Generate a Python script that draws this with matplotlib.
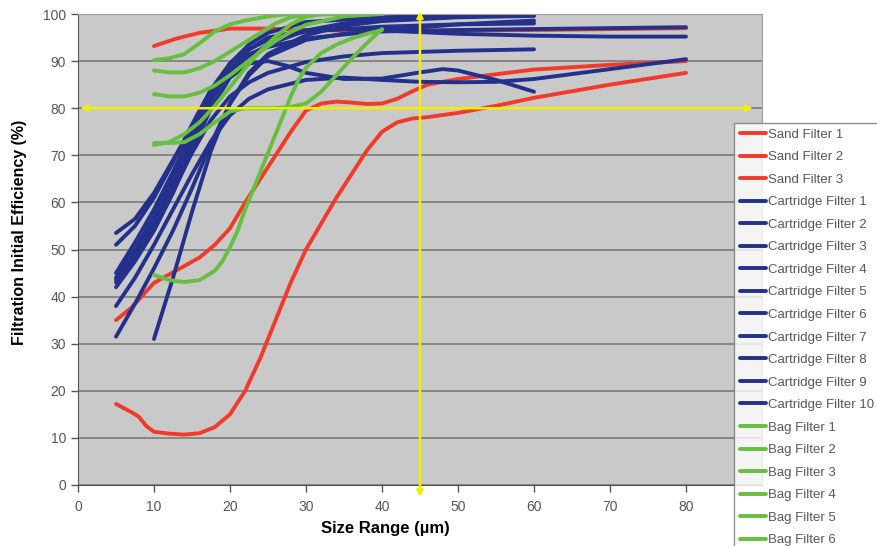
import matplotlib
matplotlib.use("Agg")
import matplotlib.pyplot as plt

plt.rcParams["font.family"] = ["Liberation Sans", "DejaVu Sans"]

RED = "#f03a2a"
BLUE = "#23308c"
GREEN = "#66bf3f"

# ---- data (x = size µm, y = efficiency %)
sand1_x = [10, 13, 16, 20, 25, 30, 40, 50, 60, 70, 80]
sand1_y = [93.2, 94.8, 96.0, 96.9, 96.9, 96.6, 96.4, 96.5, 96.6, 96.8, 97.0]
sand2_x = [5, 7, 10, 13, 16, 18, 20, 22, 24, 26, 28, 30, 32, 34, 36, 38, 40, 42, 44, 46, 50, 55, 60, 70, 80]
sand2_y = [35, 37.6, 42.9, 45.6, 48.3, 51, 54.5, 60, 65, 70, 75, 79.5, 81, 81.4, 81.2, 80.9, 81, 82, 83.6, 85,
           86.2, 87.2, 88.2, 89.2, 90]
sand3_x = [5, 7, 8, 9, 10, 12, 14, 16, 18, 20, 22, 24, 26, 28, 30, 32, 34, 36, 38, 40, 42, 44, 46, 50, 55, 60,
           70, 80]
sand3_y = [17.2, 15.5, 14.5, 12.5, 11.3, 10.9, 10.7, 11.0, 12.3, 15, 20, 27, 35, 43, 50, 55.5, 61, 66, 71, 75,
           77, 77.8, 78.1, 79, 80.5, 82.2, 85, 87.5]

cart1_x = [5, 7.5, 10, 12.5, 15, 17.5, 20, 22.5, 25, 30, 35, 40, 50, 60]
cart1_y = [53.5, 56.5, 62, 69, 76, 82.5, 87.5, 91, 93.5, 96.5, 98, 99, 99.5, 99.7]
cart2_x = [5, 7.5, 10, 12.5, 15, 17.5, 20, 22.5, 25, 30, 40, 50, 60]
cart2_y = [51, 55, 61, 68.5, 76.5, 84, 89.5, 92.5, 94.5, 96.3, 97.3, 97.8, 98]
cart3_x = [5, 7.5, 10, 12.5, 15, 17.5, 20, 22.5, 25, 30, 40, 50, 60]
cart3_y = [44, 50, 57, 65, 74, 83, 89.5, 93.5, 96, 98.3, 99.3, 99.7, 99.8]
cart4_x = [5, 7.5, 10, 12.5, 15, 17.5, 20, 22.5, 25, 30, 35, 40, 50, 60]
cart4_y = [43, 48.5, 55, 62.5, 70.5, 77.5, 82.5, 85.5, 87.5, 89.8, 91, 91.7, 92.2, 92.5]
cart5_x = [5, 7.5, 10, 12.5, 15, 17.5, 20, 22.5, 25, 27.5, 30, 35, 40, 45, 48, 50, 55, 60]
cart5_y = [42, 47.5, 54, 62, 71, 80, 86.5, 89.5, 90, 89, 87.5, 86.2, 86.3, 87.6, 88.3, 88, 86, 83.5]
cart6_x = [5, 7.5, 10, 12.5, 15, 17.5, 20, 22.5, 25, 30, 35, 40, 45, 50, 55, 60, 70, 80]
cart6_y = [38, 44, 51, 58.5, 66, 73, 78.5, 82, 84, 86, 86.5, 86, 85.6, 85.5, 85.6, 86.2, 88.3, 90.4]
cart7_x = [5, 7.5, 10, 12.5, 15, 17.5, 20, 22.5, 25, 30, 35, 40, 50, 60, 70, 80]
cart7_y = [31.5, 38.5, 46, 54, 63, 72.5, 81, 87, 91, 94.5, 95.8, 96.3, 96.6, 96.8, 97, 97.2]
cart8_x = [5, 7.5, 10, 12.5, 15, 17.5, 20, 22.5, 25, 30, 35, 40, 50, 60, 70, 80]
cart8_y = [43.5, 49, 55.5, 63.5, 72.5, 81.5, 88, 92.5, 95, 96.5, 96.8, 96.5, 95.8, 95.4, 95.2, 95.2]
cart9_x = [10, 12.5, 15, 17.5, 20, 22.5, 25, 30, 35, 40, 50, 60]
cart9_y = [31, 44, 58, 71, 81, 87.5, 91.5, 95.5, 97.5, 98.5, 99.3, 99.6]
cart10_x = [5, 7.5, 10, 12.5, 15, 17.5, 20, 22.5, 25, 30, 40, 50, 60]
cart10_y = [45, 51.5, 58.5, 66.5, 75, 83, 88.5, 91.5, 93, 94.8, 96.5, 97.8, 98.6]

bag1_x = [10, 12, 14, 16, 18, 20, 22, 24, 26, 28, 30, 35, 40]
bag1_y = [90.2, 90.6, 91.5, 93.8, 96.3, 97.8, 98.6, 99.2, 99.7, 100, 100, 100, 100]
bag2_x = [10, 12, 14, 16, 18, 20, 22, 24, 26, 28, 30, 35, 40]
bag2_y = [88, 87.6, 87.6, 88.5, 90, 92, 94, 96, 98, 99.3, 99.8, 100, 100]
bag3_x = [10, 12, 14, 16, 18, 20, 22, 24, 26, 28, 30, 35, 40]
bag3_y = [83, 82.5, 82.5, 83.3, 84.8, 87, 89.5, 92, 94.3, 96.2, 97.7, 99.5, 100]
bag4_x = [10, 12, 14, 16, 18, 20, 22, 24, 26, 28, 30, 32, 34, 36, 38, 40]
bag4_y = [72.6, 72.6, 72.8, 74.5, 77, 79.3, 80, 80, 80, 80.3, 81, 83.5, 87, 90.5, 93.8, 96.8]
bag5_x = [10, 12, 14, 16, 18, 19, 20, 21, 22, 23, 24, 25, 26, 27, 28, 29, 30, 32, 34, 36, 38, 40]
bag5_y = [44.6, 43.5, 43.1, 43.5, 45.5, 47.5, 50.5, 54, 58.5, 62.5, 66.5, 70.5, 74.5, 78.5, 82.5, 86, 88.6,
          91.7, 93.5, 94.8, 95.8, 96.6]
bag6_x = [10, 12, 14, 16, 18, 20, 22, 24, 26, 28, 30, 32, 35, 40]
bag6_y = [72.2, 72.8, 74.5, 77, 80.5, 84.5, 88.5, 92.2, 95.2, 97.8, 99.4, 100, 100, 100]

sand = [(sand1_x, sand1_y), (sand2_x, sand2_y), (sand3_x, sand3_y)]
cartridge = [(cart1_x, cart1_y), (cart2_x, cart2_y), (cart3_x, cart3_y), (cart4_x, cart4_y),
             (cart5_x, cart5_y), (cart6_x, cart6_y), (cart7_x, cart7_y), (cart8_x, cart8_y),
             (cart9_x, cart9_y), (cart10_x, cart10_y)]
bag = [(bag1_x, bag1_y), (bag2_x, bag2_y), (bag3_x, bag3_y), (bag4_x, bag4_y),
       (bag5_x, bag5_y), (bag6_x, bag6_y)]

x_ticks = [0, 10, 20, 30, 40, 50, 60, 70, 80]
y_ticks = [0, 10, 20, 30, 40, 50, 60, 70, 80, 90, 100]
target_size = 45
target_eff = 80

fig = plt.figure(figsize=(8.77, 5.46), dpi=100)
ax = fig.add_axes([78 / 877, 1 - 485 / 546, 684 / 877, 471 / 546])
ax.set_facecolor("#c9c9c9")

for i, (xs, ys) in enumerate(sand, 1):
    ax.plot(xs, ys, color=RED, lw=2.8, solid_capstyle="round", label=f"Sand Filter {i}")
for i, (xs, ys) in enumerate(cartridge, 1):
    ax.plot(xs, ys, color=BLUE, lw=2.8, solid_capstyle="round", label=f"Cartridge Filter {i}")
for i, (xs, ys) in enumerate(bag, 1):
    ax.plot(xs, ys, color=GREEN, lw=2.8, solid_capstyle="round", label=f"Bag Filter {i}")

ax.set_xlim(0, 90)
ax.set_ylim(0, 100)
ax.set_xticks(x_ticks)
ax.set_yticks(y_ticks)
ax.grid(True, axis="y", color="#7a7a7a", lw=1.2)
ax.set_axisbelow(True)
ax.tick_params(direction="out", length=5, width=1, color="#555555", labelcolor="#555566", labelsize=10)
ax.tick_params(axis="x", pad=6)
for side in ("left", "bottom"):
    ax.spines[side].set_color("#555555")
for side in ("top", "right"):
    ax.spines[side].set_color("#a0a0a0")

ax.set_xlabel("Size Range (µm)", fontsize=12, fontweight="bold")
ax.set_ylabel("Filtration Initial Efficiency (%)", fontsize=11.5, fontweight="bold")
ax.xaxis.set_label_coords((385 - 78) / 684, -36 / 471)
ax.yaxis.set_label_coords(-51 / 684, (485 - 232) / 471)

# yellow guide arrows
arrow = dict(arrowstyle="<|-|>", color="#f2f000", lw=1.8, mutation_scale=9, shrinkA=0, shrinkB=0)
ax.annotate("", xy=(0.3, target_eff), xytext=(88.8, target_eff), arrowprops=arrow, annotation_clip=False)
ax.annotate("", xy=(target_size, 100.6), xytext=(target_size, -2.5), arrowprops=arrow, annotation_clip=False)

leg = fig.legend(loc="upper left", bbox_to_anchor=(727 / 877, 1 - 116 / 546), fontsize=9.5,
                 handlelength=2.0, handletextpad=0.15, labelspacing=0.78, borderpad=0.45,
                 frameon=True, fancybox=False, edgecolor="#777777", labelcolor="#555566")
leg.get_frame().set_linewidth(1.0)

fig.savefig("out.png", dpi=100)
